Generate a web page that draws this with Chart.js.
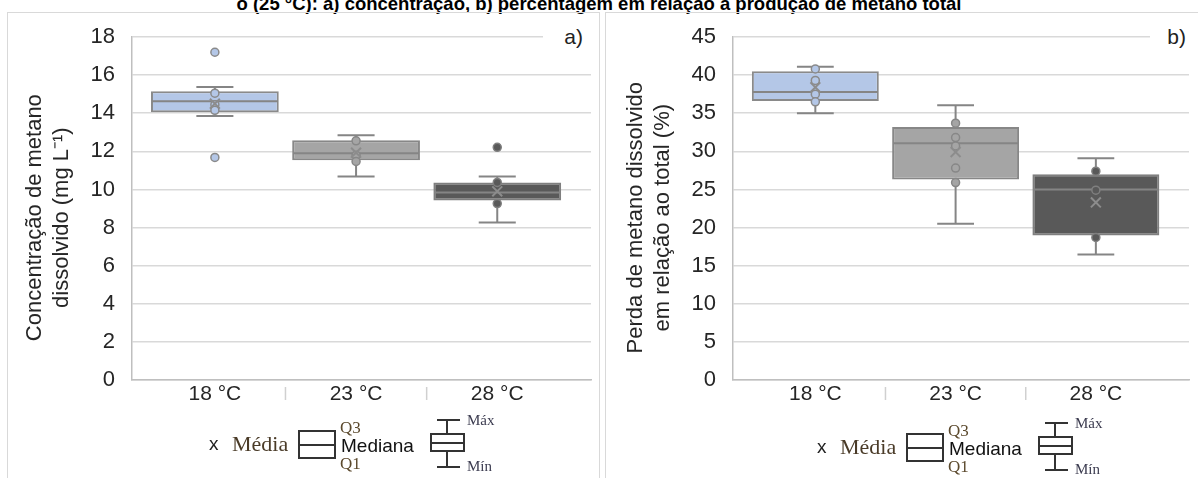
<!DOCTYPE html>
<html lang="pt">
<head>
<meta charset="utf-8">
<title>Metano dissolvido</title>
<script src="https://cdn.jsdelivr.net/npm/chart.js@4.4.1/dist/chart.umd.min.js"></script>
<style>
  html, body { margin: 0; padding: 0; background: #fff; }
  body { width: 1198px; height: 478px; overflow: hidden; position: relative;
         font-family: "Liberation Sans", Arial, sans-serif; }
  .titulo { position: absolute; left: 0; width: 1198px; top: -5px; text-align: center;
            font-weight: bold; font-size: 18.5px; line-height: 18px; color: #000; white-space: nowrap; }
  .painel { position: absolute; top: 12px; height: 480px; border: 1px solid #d9d9d9; box-sizing: border-box; }
  #painelA { left: 7px; width: 593px; }
  #painelB { left: 605px; width: 600px; }
  canvas { position: absolute; top: 0; }
  #graficoA { left: 0; }
  #graficoB { left: 601px; }
  .letra { position: absolute; top: 25px; height: 24px; line-height: 24px; background: #fff;
           font-size: 21px; color: #222; text-align: right; box-sizing: border-box; }
  .leg { position: absolute; white-space: nowrap; transform: translateY(-50%); }
  .serif { font-family: "Liberation Serif", "Times New Roman", serif; }
  .forma { position: absolute; box-sizing: border-box; border: 2px solid #333; }
  .traco { position: absolute; background: #333; }
</style>
</head>
<body>
<div class="titulo">o (25 °C): a) concentração, b) percentagem em relação à produção de metano total</div>
<div class="painel" id="painelA"></div>
<div class="painel" id="painelB"></div>
<canvas id="graficoA" width="600" height="478"></canvas>
<canvas id="graficoB" width="597" height="478"></canvas>
<div class="letra" style="left:543px;width:49px;padding-right:9px;">a)</div>
<div class="letra" style="left:1150px;width:43px;padding-right:7px;">b)</div>
<div id="legendas"></div>

<script>
// categorias (temperatura)
const categorias = ['18 °C', '23 °C', '28 °C'];

// a) concentração de metano dissolvido (mg/L)
const concMin = [13.85, 10.68, 8.26];
const concQ1 = [14.05, 11.53, 9.42];
const concMediana = [14.63, 11.9, 9.84];
const concQ3 = [15.15, 12.58, 10.37];
const concMax = [15.37, 12.84, 10.68];
const concMedia = [14.5, 11.93, 9.9];
const concPontos = [[17.2, 15.05, 14.45, 14.15, 11.68], [12.55, 11.8, 11.47], [12.21, 10.37, 9.26]];
const concEixo = [0, 18, 2]; // min, max, passo

// b) perda de metano dissolvido em relação ao total (%)
const percMin = [35.0, 20.5, 16.45];
const percQ1 = [36.6, 26.3, 18.95];
const percMediana = [37.8, 31.05, 25.0];
const percQ3 = [40.5, 33.2, 27.0];
const percMax = [41.1, 36.05, 29.1];
const percMedia = [38.4, 29.9, 23.3];
const percPontos = [[40.8, 39.3, 37.5, 36.5], [33.7, 31.8, 30.7, 27.8, 25.9], [27.4, 24.9, 18.7]];
const percEixo = [0, 45, 5];

// cores das caixas
const coresCaixa = ['#b4c7e7', '#a5a5a5', '#595959'];
const coresBorda = ['#8a8a8a', '#878787', '#7f7f7f'];

Chart.defaults.font.family = '"Liberation Sans", Arial, sans-serif';
Chart.defaults.color = '#333';

// bigodes, tampas e mediana desenhados sobre as caixas
function bigodes(min, mediana, max, q1, q3) {
    return {
        id: 'bigodes',
        afterDatasetDraw(chart, args) {
            if (args.meta.type !== 'bar') return;
            const { ctx, scales: { x, y } } = chart;
            ctx.save();
            ctx.strokeStyle = '#858585';
            ctx.lineWidth = 2;
            categorias.forEach((c, i) => {
                const cx = x.getPixelForValue(i + 1);
                const meia = args.meta.data[i].width / 2;
                const tampa = meia * 0.29;
                const yMax = y.getPixelForValue(max[i]);
                const yMin = y.getPixelForValue(min[i]);
                const yMed = y.getPixelForValue(mediana[i]);
                ctx.beginPath();
                ctx.moveTo(cx, y.getPixelForValue(q3[i])); ctx.lineTo(cx, yMax);
                ctx.moveTo(cx - tampa, yMax); ctx.lineTo(cx + tampa, yMax);
                ctx.moveTo(cx, y.getPixelForValue(q1[i])); ctx.lineTo(cx, yMin);
                ctx.moveTo(cx - tampa, yMin); ctx.lineTo(cx + tampa, yMin);
                ctx.moveTo(cx - meia + 1, yMed); ctx.lineTo(cx + meia - 1, yMed);
                ctx.stroke();
            });
            ctx.restore();
        }
    };
}

// pequenos traços entre categorias, abaixo do eixo
const divisorias = {
    id: 'divisorias',
    afterDraw(chart) {
        const { ctx, scales: { x } } = chart;
        ctx.save();
        ctx.strokeStyle = '#d0d0d0';
        ctx.lineWidth = 1.5;
        for (let i = 1; i < categorias.length; i++) {
            const px = x.getPixelForValue(i + 0.5);
            ctx.beginPath();
            ctx.moveTo(px, x.top + 7);
            ctx.lineTo(px, x.top + 20);
            ctx.stroke();
        }
        ctx.restore();
    }
};

function criarGrafico(id, s, direita) {
    const datasets = [
        {
            type: 'bar',
            data: categorias.map((c, i) => ({ x: i + 1, y: [s.q1[i], s.q3[i]] })),
            backgroundColor: coresCaixa,
            borderColor: coresBorda,
            borderWidth: 2,
            borderSkipped: false,
            barPercentage: 0.905,
            categoryPercentage: 1,
            order: 3
        },
        ...s.pontos.map((lista, i) => ({
            type: 'scatter',
            data: lista.map(v => ({ x: i + 1, y: v })),
            pointRadius: 4,
            pointBackgroundColor: coresCaixa[i],
            pointBorderColor: coresBorda[i],
            pointBorderWidth: 1.5,
            order: 2
        })),
        {
            type: 'scatter',
            data: s.media.map((v, i) => ({ x: i + 1, y: v })),
            pointStyle: 'crossRot',
            pointRadius: 7,
            pointBorderColor: '#8c8c8c',
            pointBorderWidth: 2,
            order: 1
        }
    ];

    return new Chart(document.getElementById(id), {
        type: 'bar',
        data: { datasets },
        options: {
            responsive: false,
            animation: false,
            devicePixelRatio: 1,
            events: [],
            layout: { padding: { left: 8, top: 37, right: direita, bottom: 0 } },
            plugins: { legend: { display: false }, tooltip: { enabled: false } },
            scales: {
                x: {
                    type: 'linear',
                    min: 0.413,
                    max: 3.664,
                    offset: false,
                    afterBuildTicks: sc => { sc.ticks = categorias.map((c, i) => ({ value: i + 1 })); },
                    afterFit: sc => { sc.height = 98; },
                    grid: { display: true, drawOnChartArea: false, drawTicks: false },
                    border: { color: '#bfbfbf', width: 1.5 },
                    ticks: {
                        callback: v => categorias[v - 1],
                        padding: 2,
                        autoSkip: false,
                        maxRotation: 0,
                        color: '#262626',
                        font: { size: 21 }
                    }
                },
                y: {
                    min: s.eixo[0],
                    max: s.eixo[1],
                    afterFit: sc => { sc.width = 124; },
                    grid: { color: '#d9d9d9', lineWidth: 1.5, drawTicks: false },
                    border: { color: '#bfbfbf', width: 1.5 },
                    ticks: { stepSize: s.eixo[2], padding: 17, color: '#262626', font: { size: 22 } },
                    title: {
                        display: true,
                        text: s.titulo,
                        color: '#262626',
                        font: { size: 22, lineHeight: 1.23 },
                        padding: { top: 13.5, bottom: 0 }
                    }
                }
            }
        },
        plugins: [bigodes(s.min, s.mediana, s.max, s.q1, s.q3), divisorias]
    });
}

// espaços finais empurram o título do eixo um pouco para baixo, como no original
criarGrafico('graficoA', {
    min: concMin, q1: concQ1, mediana: concMediana, q3: concQ3, max: concMax,
    media: concMedia, pontos: concPontos, eixo: concEixo,
    titulo: ['Concentração de metano   ', 'dissolvido (mg L⁻¹)   ']
}, 8);

criarGrafico('graficoB', {
    min: percMin, q1: percQ1, mediana: percMediana, q3: percQ3, max: percMax,
    media: percMedia, pontos: percPontos, eixo: percEixo,
    titulo: ['Perda de metano dissolvido   ', 'em relação ao total (%)   ']
}, 5);

// legenda (imagem colada no original): x Média, caixa Q3/Mediana/Q1, caixa com Máx/Mín
function legenda(dx, dy) {
    const alvo = document.getElementById('legendas');
    const add = (html) => alvo.insertAdjacentHTML('beforeend', html);
    const txt = (t, x, y, estilo, cls = '') =>
        add(`<div class="leg ${cls}" style="left:${x + dx}px;top:${y + dy}px;${estilo}">${t}</div>`);
    const ret = (x, y, w, h, cls) =>
        add(`<div class="${cls}" style="left:${x + dx}px;top:${y + dy}px;width:${w}px;height:${h}px;"></div>`);

    txt('x', 209, 444, 'font-size:19px;color:#222;');
    txt('Média', 232, 444, 'font-size:22px;color:#4a3b28;', 'serif');
    ret(298, 430, 38, 29, 'forma');
    ret(298, 444, 38, 2, 'traco');
    txt('Q3', 340, 428, 'font-size:17px;color:#5c4a2e;', 'serif');
    txt('Mediana', 341, 446, 'font-size:19px;color:#111;');
    txt('Q1', 340, 464, 'font-size:17px;color:#5c4a2e;', 'serif');

    ret(430, 433, 35, 19, 'forma');
    ret(430, 442, 35, 2, 'traco');
    ret(446, 420, 2, 13, 'traco');
    ret(446, 452, 2, 15, 'traco');
    ret(437, 419, 23, 2, 'traco');
    ret(437, 466, 23, 2, 'traco');
    txt('Máx', 467, 420, 'font-size:15px;color:#3c3c50;', 'serif');
    txt('Mín', 467, 466, 'font-size:15px;color:#3c3c50;', 'serif');
}
legenda(0, 0);
legenda(608, 3);
</script>
</body>
</html>
